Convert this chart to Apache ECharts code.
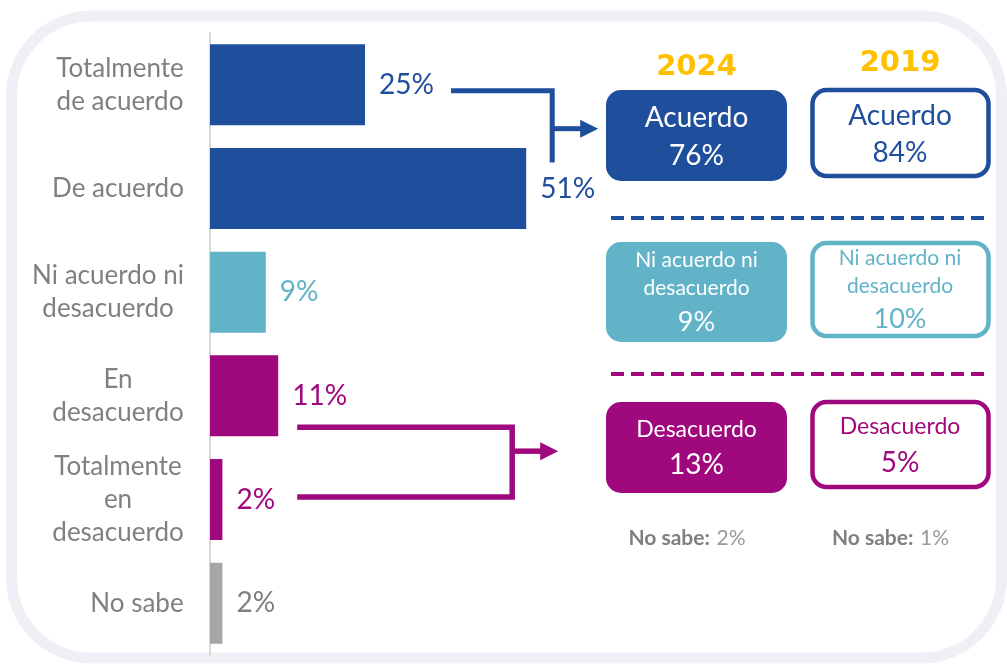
<!DOCTYPE html>
<html>
<head>
<meta charset="utf-8">
<title>Acuerdo 2024 vs 2019</title>
<script src="https://cdn.jsdelivr.net/npm/echarts@6/dist/echarts.min.js"></script>
<style>
  html, body { margin: 0; padding: 0; background: #fff; }
  #chart { width: 1007px; height: 664px; }
</style>
</head>
<body>
<div id="chart"></div>
<script>
// categorías y valores (2024)
const categories = [
  'Totalmente\nde acuerdo',
  'De acuerdo',
  'Ni acuerdo ni\ndesacuerdo',
  'En\ndesacuerdo',
  'Totalmente\nen\ndesacuerdo',
  'No sabe'
]
const values2024 = [25, 51, 9, 11, 2, 2]

// resumen agrupado
const years = ['2024', '2019']
const groupNames = [['Acuerdo'], ['Ni acuerdo ni', 'desacuerdo'], ['Desacuerdo']]
const groups2024 = [76, 9, 13]
const groups2019 = [84, 10, 5]
const noSabe = [2, 1]

// colores
const BLUE = '#1F4E9C'
const TEAL = '#62B2C8'
const MAGENTA = '#A0097E'
const barColors = [BLUE, BLUE, TEAL, MAGENTA, MAGENTA, '#A6A6A6']
const labelColors = [BLUE, BLUE, TEAL, MAGENTA, MAGENTA, '#7F7F7F']
const groupColors = [BLUE, TEAL, MAGENTA]
const FONT = 'Lato, "Noto Sans", sans-serif'

const chart = echarts.init(document.getElementById('chart'))

// ancho de cada etiqueta del eje, para centrar las líneas entre sí
const ctx = document.createElement('canvas').getContext('2d')
ctx.font = '26px Lato'
const rich = {}
categories.forEach((c, i) => {
  const w = Math.max(...c.split('\n').map(l => ctx.measureText(l).width))
  rich['c' + i] = { width: Math.ceil(w), align: 'center', fontSize: 26, lineHeight: 33, color: '#808080', fontFamily: FONT }
})

const option = {
  backgroundColor: '#fff',
  animation: false,
  grid: { left: 210, top: 33, height: 622, width: 620 },
  xAxis: { type: 'value', min: 0, max: 100, show: false },
  yAxis: {
    type: 'category',
    inverse: true,
    data: categories,
    axisLine: { lineStyle: { color: '#D9D9D9', width: 2 } },
    axisTick: { show: false },
    axisLabel: {
      margin: 26,
      formatter: (val, idx) => val.split('\n').map(l => '{c' + idx + '|' + l + '}').join('\n'),
      rich: rich
    }
  },
  series: [{
    type: 'bar',
    barWidth: 81,
    z: 3,
    data: values2024.map((v, i) => ({
      value: v,
      itemStyle: { color: barColors[i] },
      label: { color: labelColors[i] }
    })),
    label: {
      show: true,
      position: 'right',
      distance: 14,
      formatter: '{c}%',
      fontSize: 28,
      fontFamily: FONT
    }
  }]
}
chart.setOption(option)

// --- anotaciones: cajas, flechas, marco ---
const catY = i => chart.convertToPixel({ yAxisIndex: 0 }, categories[i])
const valX = v => chart.convertToPixel({ xAxisIndex: 0 }, v)

const g = []
// marco redondeado
g.push({ type: 'rect', z: 0, shape: { x: 11.5, y: 16, width: 990, height: 642, r: 80 },
  style: { fill: null, stroke: '#EEF0F5', lineWidth: 11 } })

function arrow (color, pts, ya, xv, width) {
  g.push({ type: 'polyline', z: 5, shape: { points: pts }, style: { stroke: color, lineWidth: width, fill: null } })
  g.push({ type: 'line', z: 5, shape: { x1: xv, y1: ya, x2: xv + 30, y2: ya }, style: { stroke: color, lineWidth: width } })
  g.push({ type: 'polygon', z: 5, shape: { points: [[xv + 28, ya - 9], [xv + 46, ya], [xv + 28, ya + 9]] }, style: { fill: color } })
}
// acuerdo
{
  const y0 = catY(0), y1 = catY(1)
  const xs = valX(values2024[0]) + 86
  const xv = valX(values2024[1]) + 26
  arrow(BLUE, [[xs, y0 + 6], [xv, y0 + 6], [xv, y1 - 26]], (y0 + y1) / 2 - 8, xv, 5)
}
// desacuerdo
{
  const y3 = catY(3), y4 = catY(4)
  const xs = valX(values2024[3]) + 19
  const xv = xs + 215
  const top = y3 + 31.5, bot = y4 - 2.5
  arrow(MAGENTA, [[xs, top], [xv, top], [xv, bot], [xs, bot]], (top + bot) / 2 - 11, xv, 5.5)
}

// columnas de resumen
const colX = [696.5, 900]
const yearY = [67, 63]
years.forEach((y, k) => {
  g.push({ type: 'text', z: 6, style: { text: y, x: colX[k], y: yearY[k], align: 'center', verticalAlign: 'middle',
    font: 'bold 29px "DejaVu Sans"', fill: '#FFC000' } })
})

// posición de cajas y líneas de texto (px)
const boxTop = [[90, 242, 402], [88, 241, 400]]
const boxH = [[91, 100, 91], [90, 97, 89]]
const lineY = [
  [[118, 156], [260, 288, 322], [430, 465]],
  [[116, 153], [258, 286, 319], [427, 463]]
]
groupNames.forEach((lines, j) => {
  ;[groups2024, groups2019].forEach((vals, k) => {
    const color = groupColors[j]
    const filled = k === 0
    const top = boxTop[k][j]
    const h = boxH[k][j]
    if (filled) {
      g.push({ type: 'rect', z: 5, shape: { x: 606, y: top, width: 181, height: h, r: 15 }, style: { fill: color } })
    } else {
      g.push({ type: 'rect', z: 5, shape: { x: 812.5, y: top + 2, width: 176, height: h - 4, r: 14 }, style: { fill: '#fff', stroke: color, lineWidth: 4.5 } })
    }
    const txt = filled ? '#fff' : color
    const cx = colX[k]
    const small = lines.length > 1
    const nameSize = small ? 21 : (j === 2 ? 23 : 28)
    const pctSize = small ? 27 : 28
    const ys = lineY[k][j]
    lines.forEach((l, n) => {
      g.push({ type: 'text', z: 6, style: { text: l, x: cx, y: ys[n], align: 'center', verticalAlign: 'middle',
        font: nameSize + 'px Lato', fill: txt } })
    })
    g.push({ type: 'text', z: 6, style: { text: vals[j] + '%', x: cx, y: ys[lines.length],
      align: 'center', verticalAlign: 'middle', font: pctSize + 'px Lato', fill: txt } })
  })
})

// separadores punteados
g.push({ type: 'line', z: 5, shape: { x1: 611, y1: 218, x2: 990, y2: 218 }, style: { stroke: BLUE, lineWidth: 4, lineDash: [13, 7] } })
g.push({ type: 'line', z: 5, shape: { x1: 611, y1: 374, x2: 990, y2: 374 }, style: { stroke: MAGENTA, lineWidth: 4, lineDash: [13, 7] } })

// no sabe
const noSabeX = [687, 890.5]
noSabe.forEach((v, k) => {
  g.push({ type: 'text', z: 6, style: {
    text: '{b|No sabe:}  {n|' + v + '%}', x: noSabeX[k], y: 538, align: 'center', verticalAlign: 'middle',
    rich: {
      b: { fontFamily: 'Lato', fontWeight: 'bold', fontSize: 21, fill: '#7F7F7F' },
      n: { fontFamily: 'Lato', fontSize: 21, fill: '#9A9A9A' }
    }
  } })
})

chart.setOption({ graphic: g })
</script>
</body>
</html>
